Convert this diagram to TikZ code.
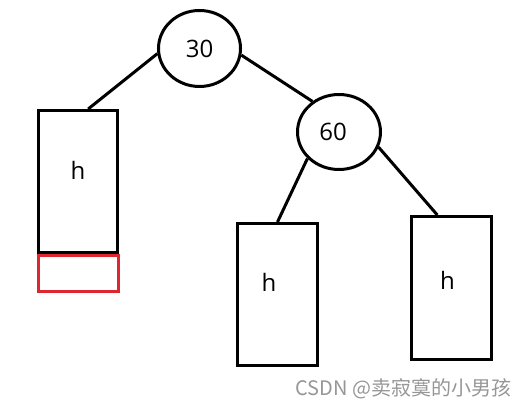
\documentclass[tikz,border=0pt]{standalone}
\usepackage{fontspec}
\setmainfont{Open Sans}
\newfontfamily\cjkfont{Noto Sans CJK SC}
\usetikzlibrary{shapes.geometric}
\definecolor{addred}{RGB}{222,38,48}
\definecolor{markgray}{RGB}{150,150,150}
\tikzset{every picture/.style={line width=0.75pt}}
\tikzset{
  keynode/.style={draw, ellipse, line width=2.25pt, inner sep=0pt, font=\fontsize{18}{20}\selectfont},
  subtree/.style={draw, rectangle, line width=2.25pt, inner sep=0pt, minimum width=60pt, minimum height=106.5pt},
  hlabel/.style={inner sep=0.75pt, font=\fontsize{18}{20}\selectfont},
  edge/.style={line width=2.25pt}
}

\begin{document}
\begin{tikzpicture}[x=0.75pt,y=0.75pt,yscale=-1,xscale=1]
\useasboundingbox (0,0) rectangle (522,409);

%Shape: Ellipse
\node [keynode, minimum width=61.5pt, minimum height=57pt] (n30) at (199.5,48.5) {30};
%Shape: Ellipse
\node [keynode, minimum width=62.25pt, minimum height=56.25pt] (n60) at (339,132) {\hspace*{-9pt}60};

%Shape: Rectangle
\node [subtree, minimum width=59.25pt] (h1) at (78,181.5) {};
%Shape: Rectangle
\node [subtree, draw=addred, minimum width=60pt, minimum height=27pt] (grow) at (78.5,273.5) {};
%Shape: Rectangle
\node [subtree] (h2) at (277.5,294.5) {};
%Shape: Rectangle
\node [subtree, minimum height=107.25pt] (h3) at (451.5,288) {};

%Straight Lines
\draw [edge] (n30.187) -- (h1.82) ;
%Straight Lines
\draw [edge] (n30.351) -- (n60.131) ;
%Straight Lines
\draw [edge] (n60.220) -- (h2.north) ;
%Straight Lines
\draw [edge] (n60.339) -- (h3.101) ;

% Text Node
\node [hlabel] (h1txt) at (78,170.5) {h};
% Text Node
\node [hlabel] (h2txt) at (269,282) {h};
% Text Node
\node [hlabel] (h3txt) at (447.5,280) {h};
% Text Node
\node [inner sep=0pt, text=markgray, font=\cjkfont\fontsize{15}{17}\selectfont] (mark) at (403.5,389) {CSDN @卖寂寞的小男孩};

\end{tikzpicture}
\end{document}
